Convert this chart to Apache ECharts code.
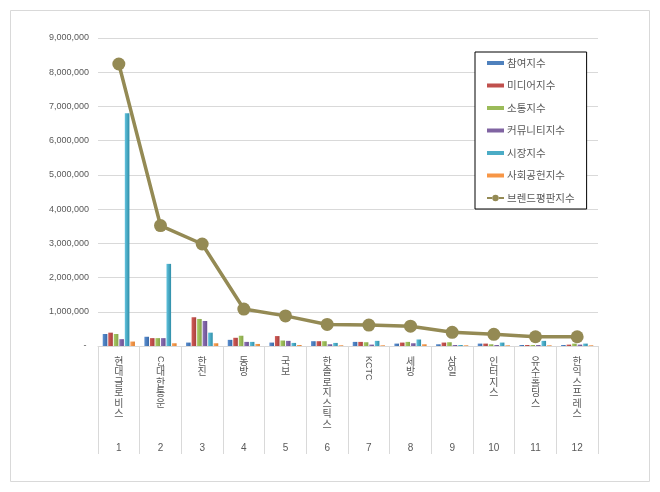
<!DOCTYPE html>
<html><head><meta charset="utf-8">
<script src="https://cdn.jsdelivr.net/npm/echarts@6/dist/echarts.min.js"></script>
<style>html,body{margin:0;padding:0;background:#fff}#c{width:660px;height:492px}</style>
</head><body><div id="c"></div>
<script>
const categories = ['현대글로비스','CJ대한통운','한진','동방','국보','한솔로지스틱스','KCTC','세방','삼일','인터지스','유수홀딩스','한익스프레스'];
const rankLabels = ['1','2','3','4','5','6','7','8','9','10','11','12'];
const yTicks = [0,1000000,2000000,3000000,4000000,5000000,6000000,7000000,8000000,9000000];
const participation = [350000, 270000, 100000, 180000, 100000, 140000, 120000, 70000, 50000, 70000, 30000, 30000];
const media         = [390000, 230000, 840000, 240000, 290000, 140000, 120000, 100000, 100000, 70000, 30000, 40000];
const communication = [350000, 230000, 790000, 300000, 160000, 140000, 110000, 120000, 110000, 50000, 30000, 70000];
const community     = [200000, 230000, 730000, 120000, 150000, 50000, 40000, 80000, 30000, 30000, 30000, 40000];
const market        = [6800000, 2400000, 390000, 120000, 90000, 90000, 150000, 190000, 30000, 100000, 150000, 70000];
const social        = [130000, 80000, 80000, 60000, 30000, 20000, 20000, 50000, 20000, 20000, 20000, 20000];
const brand         = [8240000, 3520000, 2980000, 1080000, 880000, 630000, 610000, 580000, 400000, 340000, 270000, 270000];
const seriesNames = ['참여지수','미디어지수','소통지수','커뮤니티지수','시장지수','사회공헌지수','브렌드평판지수'];

const chart = echarts.init(document.getElementById('c'), null, {renderer:'canvas'});
const txt = '#595959', grid = '#d9d9d9';
function grad(a, b){ return new echarts.graphic.LinearGradient(0,0,1,0,[{offset:0,color:a},{offset:1,color:b}]); }
const barStyles = [
  ['#5B8FD0','#3A6AA8','#4F81BD'],
  ['#D25C58','#A8403D','#C0504D'],
  ['#AACC64','#86A34A','#9BBB59'],
  ['#8F74B6','#6A5090','#8064A2'],
  ['#62C3DE','#2F8EA8','#4BACC6'],
  ['#FAA560','#E0802E','#F79646']
];
const barData = [participation, media, communication, community, market, social];
function splitLatin(name){ const m = name.match(/^[A-Za-z]+/); return m ? m[0] : ''; }
const series = barData.map((d,i)=>({
  name: seriesNames[i], type:'bar', xAxisIndex:0, data:d, barWidth:4.6, barGap:'20%',
  itemStyle:{color: grad(barStyles[i][0], barStyles[i][1])},
  color: barStyles[i][2]
}));
series.push({
  name: seriesNames[6], type:'line', xAxisIndex:0, data:brand, symbol:'circle', symbolSize:13,
  lineStyle:{width:3.5, color:'#948A54'}, itemStyle:{color:'#948A54'}, z:5, color:'#948A54'
});
const barIcon = 'path://M0,0h0.01v0.01h-0.01z M0,2h17v4H0z M0,7.99h0.01v0.01h-0.01z';
const lineIcon = 'path://M0,0h0.01v0.01h-0.01z M0,3h5.6v2H0z M11.4,3h5.6v2h-5.6z M5.3,4a3.2,3.2 0 1,0 6.4,0a3.2,3.2 0 1,0 -6.4,0z M0,7.99h0.01v0.01h-0.01z';

chart.setOption({
  animation:false,
  backgroundColor:'#fff',
  textStyle:{fontFamily:'"Noto Sans CJK KR","Liberation Sans",sans-serif'},
  graphic:[{type:'rect', shape:{x:10.5,y:10.5,width:639,height:471}, style:{fill:'none', stroke:grid, lineWidth:1}, silent:true}],
  grid:{left:98, right:62, top:38, bottom:146},
  legend:{
    orient:'vertical', left:475, top:52, selectedMode:false,
    itemWidth:17, itemHeight:8, itemGap:8.5,
    padding:[4,12,4,12], borderColor:'#000', borderWidth:1, backgroundColor:'#fff',
    textStyle:{color:txt, fontSize:10.5, lineHeight:14, padding:[0,0,0,-2]},
    data: seriesNames.map((n,i)=> i<6 ? {name:n, icon:barIcon, itemStyle:{color:barStyles[i][2]}} : {name:n, icon:lineIcon, itemStyle:{color:'#948A54', borderWidth:0}})
  },
  xAxis:[
    {type:'category', data:categories, position:'bottom',
     axisLine:{lineStyle:{color:grid}}, axisTick:{show:true, length:108, interval:0, lineStyle:{color:grid}},
     axisLabel:{interval:0, margin:9.5, color:txt, fontSize:10, lineHeight:10.5, verticalAlign:'top',
       formatter:(v)=>{ const lat = splitLatin(v); let rest = v.slice(lat.length); let arr = rest.split(''); if(lat && rest.length) arr.unshift(' '); return arr.join('\n'); }}},
    {type:'category', data:rankLabels, position:'bottom', axisLine:{show:false}, axisTick:{show:false},
     axisLabel:{interval:0, margin:97, color:txt, fontSize:10, fontFamily:'"Liberation Sans",sans-serif'}},
    {type:'category', data:categories, position:'bottom', axisLine:{show:false}, axisTick:{show:false},
     axisLabel:{interval:0, margin:10, rotate:-90, color:txt, fontSize:9, fontFamily:'"Liberation Sans",sans-serif',
       formatter:(v)=>splitLatin(v)}}
  ],
  yAxis:{type:'value', min:yTicks[0], max:yTicks[yTicks.length-1], interval:1000000,
    axisLine:{show:false}, axisTick:{show:false},
    splitLine:{lineStyle:{color:grid}},
    axisLabel:{margin:9, color:txt, fontSize:9, fontFamily:'"Liberation Sans",sans-serif',
      formatter:(v)=> v===0 ? '- ' : v.toLocaleString('en-US')}},
  series: series
});
</script></body></html>
